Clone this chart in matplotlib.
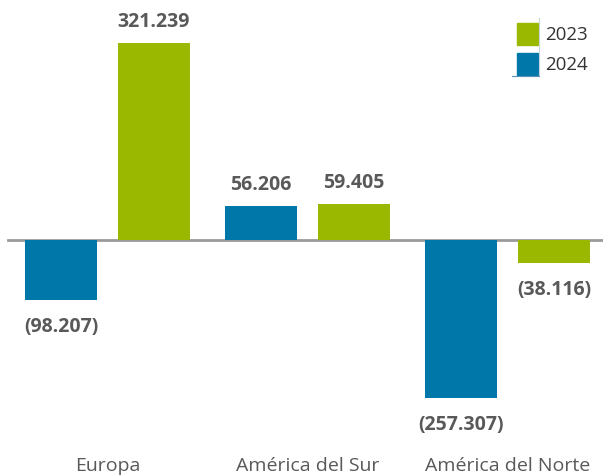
import numpy as np
import matplotlib.pyplot as plt
from matplotlib.patches import Rectangle
from matplotlib.lines import Line2D

categories = ["Europa", "América del Sur", "América del Norte"]
values_2024 = [-98.207, 56.206, -257.307]
values_2023 = [321.239, 59.405, -38.116]

BLUE = "#0077a9"
GREEN = "#9bb800"
TEXT = "#595959"

plt.rcParams['font.family'] = ['Open Sans', 'DejaVu Sans']

W, H = 603, 476
PX = 0.6133  # pixels per data unit on the y axis


def fmt(v):
    s = "{:.3f}".format(abs(v))
    return "(" + s + ")" if v < 0 else s


fig = plt.figure(figsize=(W / 100, H / 100), dpi=100)
ax = fig.add_axes([0, 0, 1, 1])

x = np.arange(len(categories))
w = 0.36
off = 0.2325

b1 = ax.bar(x - off, values_2024, w, color=BLUE, zorder=2)
b2 = ax.bar(x + off, values_2023, w, color=GREEN, zorder=2)

ax.axhline(0, xmin=8 / W, xmax=1, color="#9a9a9a", lw=2, zorder=1)

for bars, vals in [(b1, values_2024), (b2, values_2023)]:
    for bar, v in zip(bars, vals):
        cx = bar.get_x() + bar.get_width() / 2
        y = v + 21 / PX if v >= 0 else v - 27 / PX
        ax.text(cx, y, fmt(v), ha="center", va="center", fontsize=14,
                fontweight="bold", color=TEXT)

for xi, c in zip(x, categories):
    ax.text(xi, -369, c, ha="center", va="center", fontsize=14, color=TEXT)

ax.set_xlim(-107.5 / 200, (W - 107.5) / 200)
ax.set_ylim(-236 / PX, 240 / PX)
ax.axis("off")

# legend drawn by hand (pixel positions from the reference)
for top, col, lab in [(23, GREEN, "2023"), (53, BLUE, "2024")]:
    fig.add_artist(Rectangle((517 / W, 1 - (top + 22) / H), 21 / W, 22 / H,
                             color=col, transform=fig.transFigure))
    fig.text(545 / W, 1 - (top + 12) / H, lab, ha="left", va="center",
             fontsize=13.5, color="#333333")

fig.add_artist(Line2D([539 / W, 539 / W], [1 - 18 / H, 1 - 76 / H],
                      color="#c8d4dc", lw=0.8, transform=fig.transFigure))
fig.add_artist(Line2D([512 / W, 539 / W], [1 - 76 / H, 1 - 76 / H],
                      color="#5a8fb5", lw=0.8, transform=fig.transFigure))

fig.savefig("out.png", dpi=100)
